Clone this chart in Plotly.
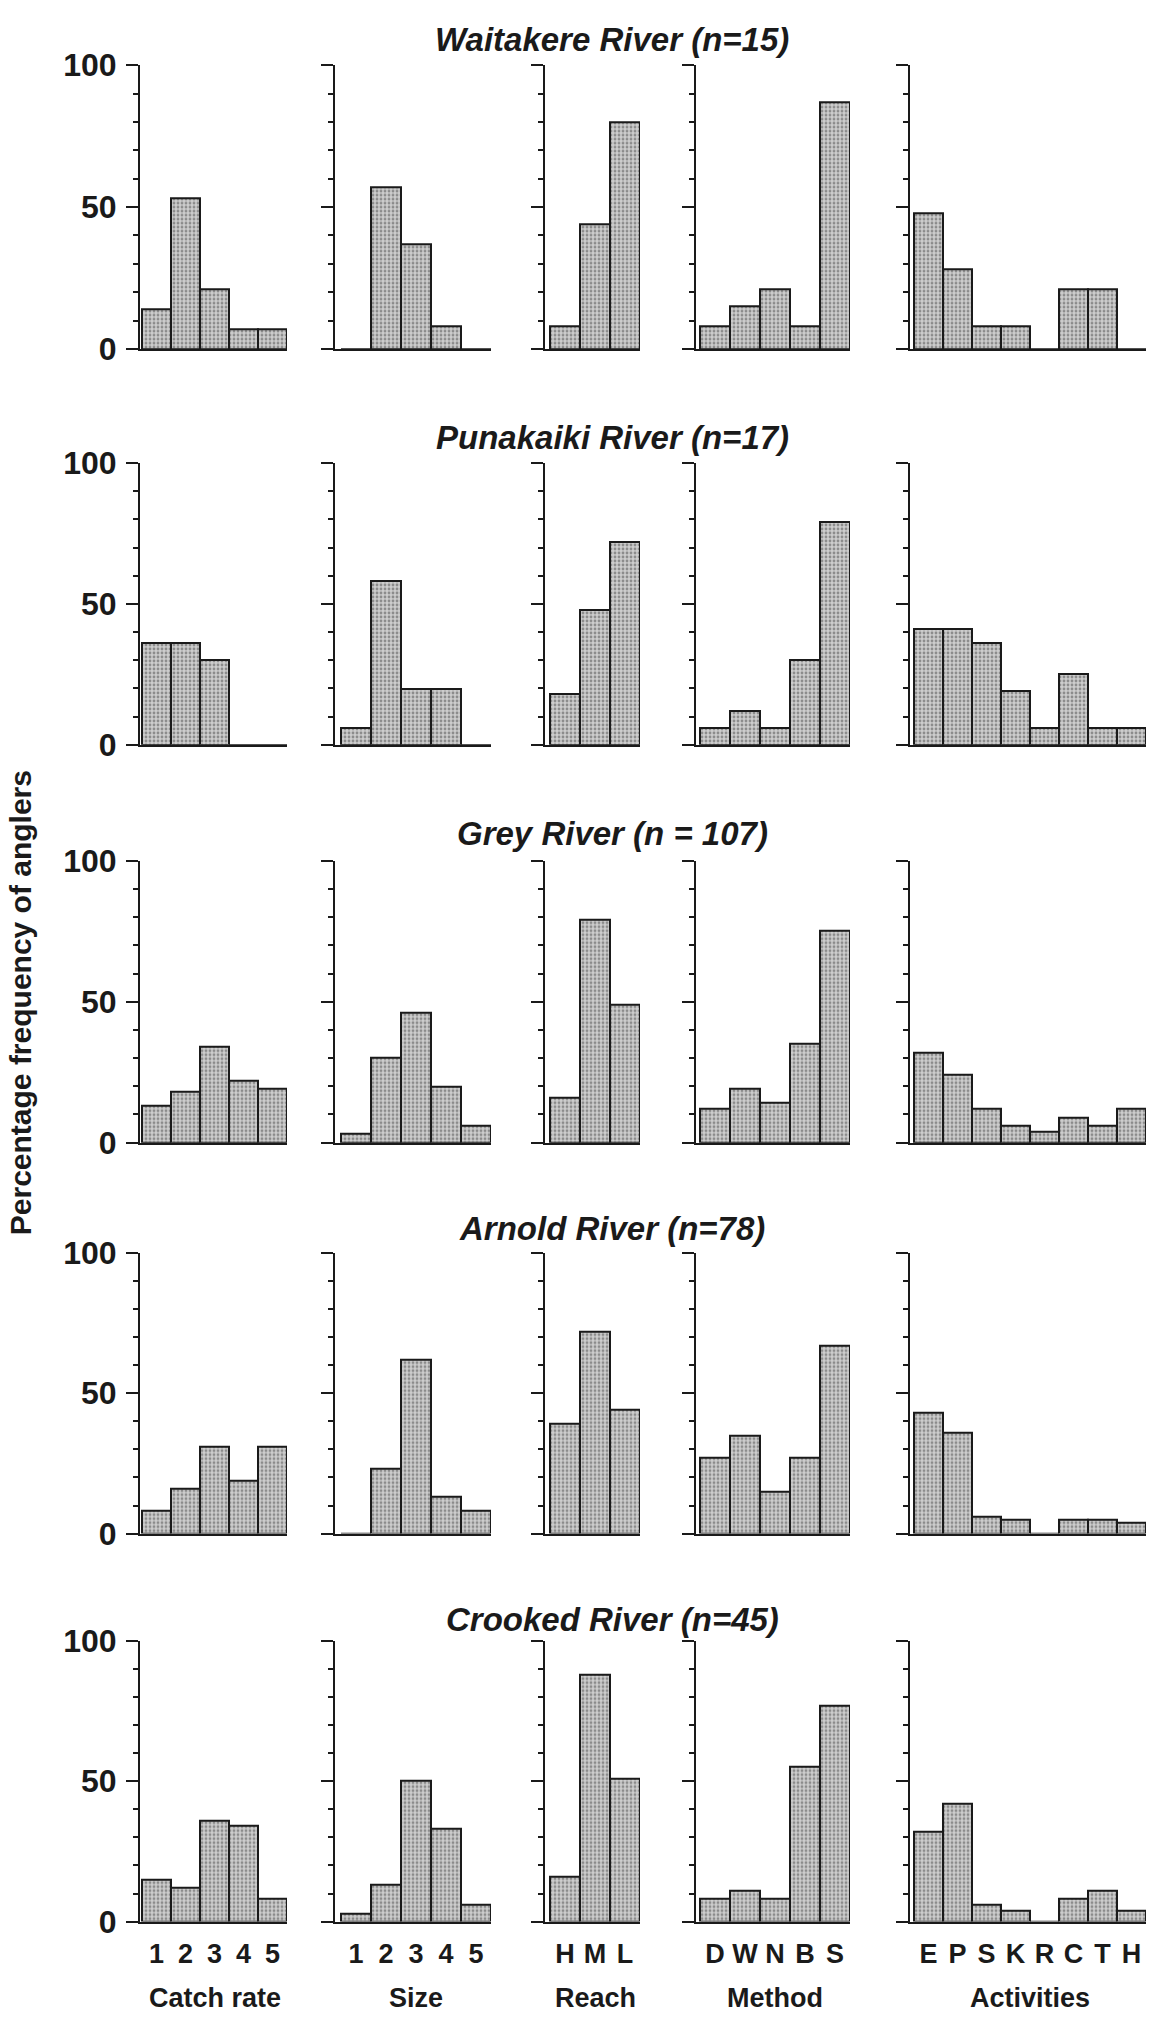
import plotly.graph_objects as go

W, H = 1157, 2029

# ---------------- data ----------------
catch_cats = ["1", "2", "3", "4", "5"]
size_cats = ["1", "2", "3", "4", "5"]
reach_cats = ["H", "M", "L"]
method_cats = ["D", "W", "N", "B", "S"]
activity_cats = ["E", "P", "S", "K", "R", "C", "T", "H"]

panel_titles = ["Catch rate", "Size", "Reach", "Method", "Activities"]
river_titles = ["Waitakere River (n=15)", "Punakaiki River (n=17)",
                "Grey River (n = 107)", "Arnold River (n=78)",
                "Crooked River (n=45)"]

waitakere_catch = [14, 53, 21, 7, 7]
waitakere_size = [0, 57, 37, 8, 0]
waitakere_reach = [8, 44, 80]
waitakere_method = [8, 15, 21, 8, 87]
waitakere_activities = [48, 28, 8, 8, 0, 21, 21, 0]

punakaiki_catch = [36, 36, 30, 0, 0]
punakaiki_size = [6, 58, 20, 20, 0]
punakaiki_reach = [18, 48, 72]
punakaiki_method = [6, 12, 6, 30, 79]
punakaiki_activities = [41, 41, 36, 19, 6, 25, 6, 6]

grey_catch = [13, 18, 34, 22, 19]
grey_size = [3, 30, 46, 20, 6]
grey_reach = [16, 79, 49]
grey_method = [12, 19, 14, 35, 75]
grey_activities = [32, 24, 12, 6, 4, 9, 6, 12]

arnold_catch = [8, 16, 31, 19, 31]
arnold_size = [0, 23, 62, 13, 8]
arnold_reach = [39, 72, 44]
arnold_method = [27, 35, 15, 27, 67]
arnold_activities = [43, 36, 6, 5, 0, 5, 5, 4]

crooked_catch = [15, 12, 36, 34, 8]
crooked_size = [3, 13, 50, 33, 6]
crooked_reach = [16, 88, 51]
crooked_method = [8, 11, 8, 55, 77]
crooked_activities = [32, 42, 6, 4, 0, 8, 11, 4]

y_tickvals = [0, 50, 100]
y_ticktext = ["0", "50", "100"]

# ---------------- assembly ----------------
cats = [catch_cats, size_cats, reach_cats, method_cats, activity_cats]
rows = [
    [waitakere_catch, waitakere_size, waitakere_reach, waitakere_method, waitakere_activities],
    [punakaiki_catch, punakaiki_size, punakaiki_reach, punakaiki_method, punakaiki_activities],
    [grey_catch, grey_size, grey_reach, grey_method, grey_activities],
    [arnold_catch, arnold_size, arnold_reach, arnold_method, arnold_activities],
    [crooked_catch, crooked_size, crooked_reach, crooked_method, crooked_activities],
]

# layout geometry (pixels)
col_axis = [140, 335, 545, 696, 910]      # y-axis line position
col_bar0 = [142, 341, 550, 700, 914]      # left edge of first bar
col_barw = [29, 30, 30, 30, 29]           # bar width
row_top = [48, 453, 858, 1257, 1652]
row_bot = [337, 740, 1145, 1543, 1938]
title_y = [22, 427, 830, 1232, 1630]

FONT = "Liberation Sans, Arial, Helvetica, sans-serif"
INK = "#1a1a1a"

fig = go.Figure()
layout = dict(
    width=W, height=H,
    margin=dict(l=0, r=0, t=0, b=0),
    paper_bgcolor="white", plot_bgcolor="white",
    showlegend=False, bargap=0,
    font=dict(family=FONT, color=INK),
)
annotations = []

k = 0
for r in range(5):
    for c in range(5):
        k += 1
        xa = "x" if k == 1 else f"x{k}"
        ya = "y" if k == 1 else f"y{k}"
        n = len(cats[c])
        bw = col_barw[c]
        x0 = col_axis[c]
        x1 = col_bar0[c] + bw * n
        lead = (col_bar0[c] - col_axis[c]) / bw   # gap between axis and first bar
        fig.add_trace(go.Bar(
            x=cats[c], y=rows[r][c], xaxis=xa, yaxis=ya,
            width=1.0,
            marker=dict(
                color="#bdbdbd",
                line=dict(color=INK, width=2),
                pattern=dict(shape=".", fgcolor="#4a4a4a", bgcolor="#cdcdcd",
                             size=4, solidity=0.4),
            ),
            hoverinfo="skip",
        ))
        xkey = "xaxis" if k == 1 else f"xaxis{k}"
        ykey = "yaxis" if k == 1 else f"yaxis{k}"
        layout[xkey] = dict(
            domain=[x0 / W, x1 / W], anchor=ya,
            type="category", range=[-0.5 - lead, n - 0.5],
            tickmode="array", tickvals=cats[c], ticktext=cats[c],
            showline=True, linecolor=INK, linewidth=2,
            ticks="", showgrid=False, zeroline=False, fixedrange=True,
            showticklabels=(r == 4),
            tickfont=dict(size=27, family=FONT, weight="bold", color=INK),
            ticklabelstandoff=7,
        )
        layout[ykey] = dict(
            domain=[1 - row_bot[r] / H, 1 - row_top[r] / H], anchor=xa,
            range=[0, 100], showline=True, linecolor=INK, linewidth=2,
            tickmode="array", tickvals=y_tickvals, ticktext=y_ticktext,
            ticks="outside", ticklen=12, tickwidth=2, tickcolor=INK,
            minor=dict(tickmode="linear", tick0=0, dtick=10, ticks="outside",
                       ticklen=5, tickwidth=1.5, tickcolor=INK),
            showgrid=False, zeroline=False, fixedrange=True,
            showticklabels=(c == 0),
            tickfont=dict(size=32, family=FONT, weight="bold", color=INK),
            ticklabelstandoff=3,
        )
        if r == 4:
            annotations.append(dict(
                text=panel_titles[c], x=(col_bar0[c] + x1) / 2 / W, y=1 - 2016 / H,
                xref="paper", yref="paper", showarrow=False,
                xanchor="center", yanchor="middle",
                font=dict(size=27, family=FONT, weight="bold", color=INK),
            ))
    annotations.append(dict(
        text=river_titles[r], x=612 / W, y=1 - title_y[r] / H,
        xref="paper", yref="paper", showarrow=False,
        xanchor="center", yanchor="middle",
        font=dict(size=33, family=FONT, weight="bold", style="italic", color=INK),
    ))

annotations.append(dict(
    text="Percentage frequency of anglers", x=20 / W, y=1 - 1003 / H,
    xref="paper", yref="paper", showarrow=False, textangle=-90,
    xanchor="center", yanchor="middle",
    font=dict(size=30, family=FONT, weight="bold", color=INK),
))

layout["annotations"] = annotations
fig.update_layout(**layout)

fig.write_html("out.html",
               config={"displayModeBar": False},
               post_script="document.body.style.margin='0';document.body.style.overflow='hidden';")
